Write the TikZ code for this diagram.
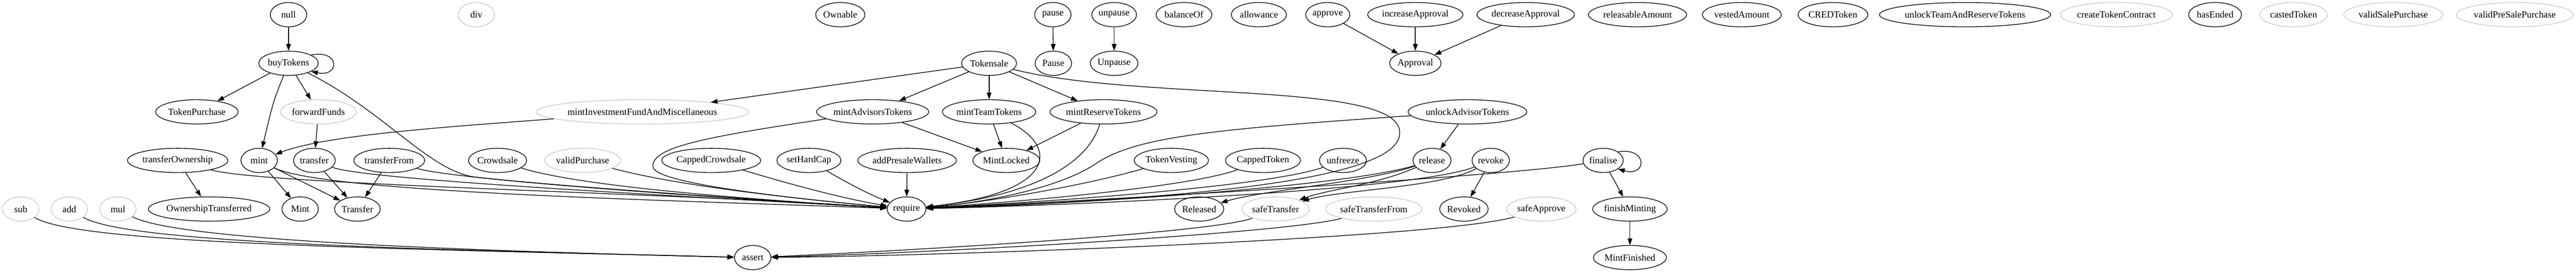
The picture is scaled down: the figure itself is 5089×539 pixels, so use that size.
\documentclass[tikz,border=0pt]{standalone}
\usepackage{fontspec}
\setmainfont{Liberation Serif}
\usetikzlibrary{shapes.geometric,arrows.meta}
\definecolor{libgray}{HTML}{C8C8C8}
\tikzset{
  fnbox/.style={ellipse, draw, line width=1pt, font=\fontsize{14}{16}\selectfont,
    minimum width=54pt, minimum height=36pt, inner xsep=0.5pt, inner ysep=1pt},
  libbox/.style={fnbox, draw=libgray}
}
\newcommand{\cgfunc}[3] {\node at (#1) (#2) [fnbox] {#3};}
\newcommand{\cglib}[3] {\node at (#1) (#2) [libbox] {#3};}
\newcommand{\cgcall}[2] {\draw [->] (#1) -- (#2);}

\begin{document}
\begin{tikzpicture}[x=0.75pt, y=-0.75pt, line width=1pt, >={Triangle[length=10pt,width=7pt]}]
\useasboundingbox (0,0) rectangle (5089,539);

% rank 1
\cgfunc {570,29}{null}{null}
\cglib {941,29}{div}{div}
\cgfunc {1660,29}{Ownable}{Ownable}
\cgfunc {2080,29}{pause}{pause}
\cgfunc {2201,29}{unpause}{unpause}
\cgfunc {2339,29}{balanceOf}{balanceOf}
\cgfunc {2487,29}{allowance}{allowance}
\cgfunc {2623,29}{approve}{approve}
\cgfunc {2796,29}{increaseApproval}{increaseApproval}
\cgfunc {3014,29}{decreaseApproval}{decreaseApproval}
\cgfunc {3235,29}{releasableAmount}{releasableAmount}
\cgfunc {3441,29}{vestedAmount}{vestedAmount}
\cgfunc {3621,29}{CREDToken}{CREDToken}
\cgfunc {3882,29}{unlockTeam}{unlockTeamAndReserveTokens}
\cglib {4181,29}{createTokenContract}{createTokenContract}
\cgfunc {4376,29}{hasEnded}{hasEnded}
\cglib {4531,29}{castedToken}{castedToken}
\cglib {4728,29}{validSalePurchase}{validSalePurchase}
\cglib {4968,29}{validPreSalePurchase}{validPreSalePurchase}

% rank 2
\cgfunc {570,125}{buyTokens}{buyTokens}
\cgfunc {1954,125}{Tokensale}{Tokensale}
\cgfunc {2081,125}{Pause}{Pause}
\cgfunc {2201,125}{Unpause}{Unpause}
\cgfunc {2796,125}{Approval}{Approval}

% rank 3
\cgfunc {389,221}{TokenPurchase}{TokenPurchase}
\cglib {629,221}{forwardFunds}{forwardFunds}
\cglib {1269,221}{mintInvest}{mintInvestmentFundAndMiscellaneous}
\cgfunc {1724,221}{mintAdvisorsTokens}{mintAdvisorsTokens}
\cgfunc {1954,221}{mintTeamTokens}{mintTeamTokens}
\cgfunc {2180,221}{mintReserveTokens}{mintReserveTokens}
\cgfunc {2899,221}{unlockAdvisorTokens}{unlockAdvisorTokens}

% rank 4
\cgfunc {351,317}{transferOwnership}{transferOwnership}
\cgfunc {512,317}{mint}{mint}
\cgfunc {621,317}{transfer}{transfer}
\cgfunc {769,317}{transferFrom}{transferFrom}
\cgfunc {983,317}{Crowdsale}{Crowdsale}
\cglib {1151,317}{validPurchase}{validPurchase}
\cgfunc {1405,317}{CappedCrowdsale}{CappedCrowdsale}
\cgfunc {1598,317}{setHardCap}{setHardCap}
\cgfunc {1792,317}{addPresaleWallets}{addPresaleWallets}
\cgfunc {1988,317}{MintLocked}{MintLocked}
\cgfunc {2314,317}{TokenVesting}{TokenVesting}
\cgfunc {2495,317}{CappedToken}{CappedToken}
\cgfunc {2653,317}{unfreeze}{unfreeze}
\cgfunc {2829,317}{release}{release}
\cgfunc {2945,317}{revoke}{revoke}
\cgfunc {3167,317}{finalise}{finalise}

% rank 5
\cglib {41,413}{sub}{sub}
\cglib {137,413}{add}{add}
\cglib {233,413}{mul}{mul}
\cgfunc {413,413}{OwnershipTransferred}{OwnershipTransferred}
\cgfunc {593,413}{Mint}{Mint}
\cgfunc {706,413}{Transfer}{Transfer}
\cgfunc {1791,413}{require}{require}
\cgfunc {2369,413}{Released}{Released}
\cglib {2520,413}{safeTransfer}{safeTransfer}
\cglib {2714,413}{safeTransferFrom}{safeTransferFrom}
\cgfunc {2892,413}{Revoked}{Revoked}
\cglib {3045,413}{safeApprove}{safeApprove}
\cgfunc {3220,413}{finishMinting}{finishMinting}

% rank 6
\cgfunc {1487,509}{assert}{assert}
\cgfunc {3220,509}{MintFinished}{MintFinished}

% straight calls
\cgcall {null}{buyTokens}
\cgcall {buyTokens}{TokenPurchase}
\cgcall {buyTokens}{forwardFunds}
\cgcall {forwardFunds}{transfer}
\cgcall {pause}{Pause}
\cgcall {unpause}{Unpause}
\cgcall {approve}{Approval}
\cgcall {increaseApproval}{Approval}
\cgcall {decreaseApproval}{Approval}
\cgcall {Tokensale}{mintInvest}
\cgcall {Tokensale}{mintAdvisorsTokens}
\cgcall {Tokensale}{mintTeamTokens}
\cgcall {Tokensale}{mintReserveTokens}
\cgcall {mintAdvisorsTokens}{MintLocked}
\cgcall {mintTeamTokens}{MintLocked}
\cgcall {mintReserveTokens}{MintLocked}
\cgcall {transferOwnership}{OwnershipTransferred}
\cgcall {mint}{Mint}
\cgcall {mint}{Transfer}
\cgcall {transfer}{Transfer}
\cgcall {transferFrom}{Transfer}
\cgcall {addPresaleWallets}{require}
\cgcall {unlockAdvisorTokens}{release}
\cgcall {revoke}{Revoked}
\cgcall {finalise}{finishMinting}
\cgcall {finishMinting}{MintFinished}

% self calls
\draw [->] (buyTokens.20) .. controls (672,97) and (672,153) .. (buyTokens.-20);
\draw [->] (finalise.30) .. controls (3255,290) and (3255,350) .. (finalise.-30);

% bent calls
\draw [->] (buyTokens) .. controls (540,200) .. (mint);
\draw [->] (mintInvest) .. controls (900,250) and (650,265) .. (mint);
\draw [->] (release) .. controls (2700,360) and (2500,375) .. (Released);
\draw [->] (release) .. controls (2720,365) and (2620,375) .. (safeTransfer);
\draw [->] (revoke) .. controls (2850,370) and (2650,375) .. (safeTransfer);

% calls into require, from the left
\draw [->] (transferOwnership) .. controls (520,365) and (1300,380) .. (require);
\draw [->] (mint) .. controls (640,380) and (1300,395) .. (require);
\draw [->] (transfer) .. controls (720,355) and (1300,385) .. (require);
\draw [->] (transferFrom) .. controls (900,355) and (1400,390) .. (require);
\draw [->] (buyTokens) .. controls (760,220) and (850,340) .. (940,350)
  .. controls (1100,368) and (1500,395) .. (require);
\draw [->] (Crowdsale) .. controls (1150,370) and (1500,395) .. (require);
\draw [->] (validPurchase) .. controls (1350,370) and (1600,395) .. (require);
\draw [->] (CappedCrowdsale) .. controls (1580,370) and (1680,395) .. (require);
\draw [->] (setHardCap) .. controls (1680,365) and (1720,385) .. (require);
\draw [->] (mintAdvisorsTokens) .. controls (1400,270) and (1285,290) .. (1290,330)
  .. controls (1295,365) and (1600,395) .. (require);

% calls into require, from the right
\draw [->] (mintTeamTokens) .. controls (2090,290) and (2090,380) .. (require);
\draw [->] (mintReserveTokens) .. controls (2150,320) and (2050,385) .. (require);
\draw [->] (Tokensale) .. controls (2250,200) and (2760,160) .. (2765,260)
  .. controls (2775,360) and (2300,395) .. (require);
\draw [->] (unlockAdvisorTokens) .. controls (2400,255) and (2250,270) .. (2170,320)
  .. controls (2100,370) and (1950,400) .. (require);
\draw [->] (TokenVesting) .. controls (2150,365) and (1950,400) .. (require);
\draw [->] (CappedToken) .. controls (2350,370) and (2000,400) .. (require);
\draw [->] (unfreeze) .. controls (2500,370) and (2050,400) .. (require);
\draw [->] (release) .. controls (2650,370) and (2100,405) .. (require);
\draw [->] (revoke) .. controls (2800,375) and (2150,405) .. (require);
\draw [->] (finalise) .. controls (3000,345) and (2300,390) .. (require);

% calls into assert
\draw [->] (sub) .. controls (150,480) and (700,490) .. (assert);
\draw [->] (add) .. controls (250,480) and (800,492) .. (assert);
\draw [->] (mul) .. controls (350,475) and (900,495) .. (assert);
\draw [->] (safeTransfer) .. controls (2400,460) and (1800,495) .. (assert);
\draw [->] (safeTransferFrom) .. controls (2550,460) and (1850,500) .. (assert);
\draw [->] (safeApprove) .. controls (2850,470) and (1900,505) .. (assert);
\end{tikzpicture}
\end{document}
